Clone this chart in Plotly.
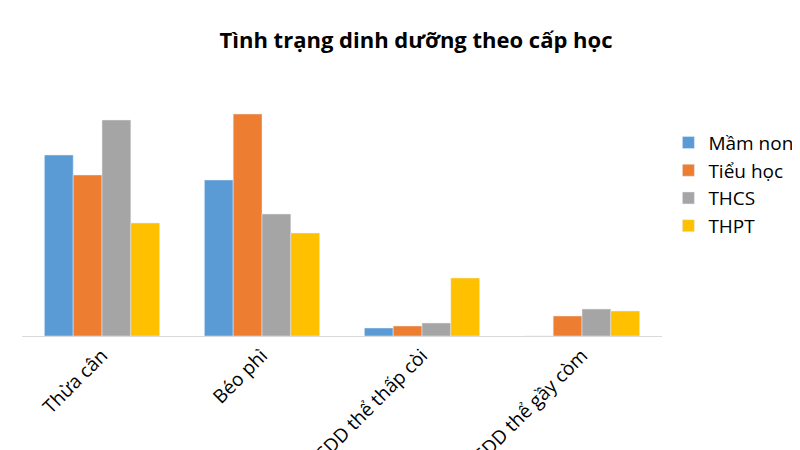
import plotly.graph_objects as go

categories = ["Thừa cân", "Béo phì", "SDD thể thấp còi", "SDD thể gầy còm"]
mam_non = [181, 156, 8, 0]
tieu_hoc = [161, 222, 10, 20]
thcs = [216, 122, 13, 27]
thpt = [113, 103, 58, 25]

series = [("Mầm non", mam_non, "#5B9BD5"), ("Tiểu học", tieu_hoc, "#ED7D31"),
          ("THCS", thcs, "#A5A5A5"), ("THPT", thpt, "#FFC000")]

fig = go.Figure()
for name, vals, col in series:
    fig.add_bar(x=categories, y=vals, name=name, marker_color=col)

fig.update_layout(
    width=800, height=450, barmode="group", bargap=0.28, bargroupgap=0,
    plot_bgcolor="white", paper_bgcolor="white",
    font=dict(family="Open Sans, Liberation Sans, sans-serif", color="#000", size=19),
    title=dict(text="<b>Tình trạng dinh dưỡng theo cấp học</b>", x=0.51, xanchor="center", y=0.945, font=dict(size=22)),
    margin=dict(l=14, r=146, t=52, b=122, autoexpand=False),
    legend=dict(x=1.01, y=0.55, yanchor="middle", font=dict(size=19), itemwidth=30, tracegroupgap=0),
    xaxis=dict(tickangle=-45, showline=True, linecolor="#D9D9D9", automargin=False, ticks=""),
    yaxis=dict(range=[0, 276], visible=False),
)
fig.write_html("out.html")
